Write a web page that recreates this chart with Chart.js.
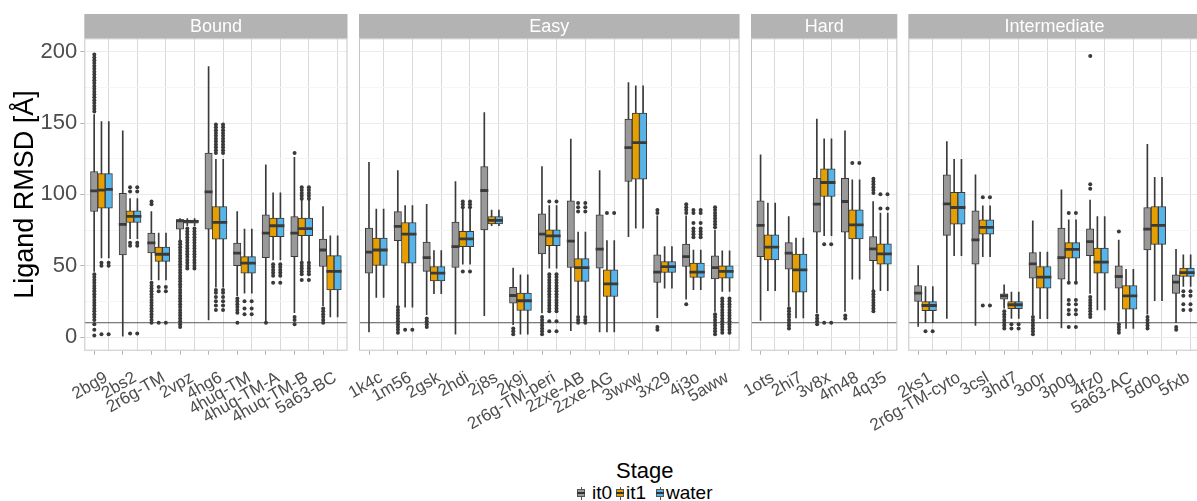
<!DOCTYPE html>
<html>
<head>
<meta charset="utf-8">
<title>Ligand RMSD by stage</title>
<script src="https://cdn.jsdelivr.net/npm/chart.js@4.4.1/dist/chart.umd.min.js"></script>
<style>
  html, body { margin: 0; padding: 0; background: #fff; }
  body { position: relative; width: 1197px; height: 501px; overflow: hidden;
         font-family: "Liberation Sans", Arial, sans-serif; }
  canvas { position: absolute; }
  #legend-title { position: absolute; left: 616px; top: 458px; font-size: 22px; line-height: 26px; color: #000; }
  .item { position: absolute; top: 484px; height: 18px; display: flex; align-items: center;
          font-size: 19px; line-height: 18px; color: #000; }
  .key { position: relative; display: inline-block; width: 8px; height: 13px; margin-right: 0; }
  .key .wh { position: absolute; left: 3.5px; top: 0; width: 1px; height: 13px; background: #555; }
  .key .bx { position: absolute; left: 0; top: 2.5px; width: 6px; height: 6px; border: 1px solid #555; }
  .key .md { position: absolute; left: 0; top: 5px; width: 8px; height: 2px; background: #333; }
</style>
</head>
<body>
<div id="legend-title">Stage</div>
<div class="item" style="left:577px"><span class="key"><span class="wh"></span><span class="bx" style="background:#999999"></span><span class="md"></span></span></div>
<div class="item" style="left:592px">it0</div>
<div class="item" style="left:616px"><span class="key"><span class="wh"></span><span class="bx" style="background:#E69F00"></span><span class="md"></span></span></div>
<div class="item" style="left:626px">it1</div>
<div class="item" style="left:656px"><span class="key"><span class="wh"></span><span class="bx" style="background:#56B4E9"></span><span class="md"></span></span></div>
<div class="item" style="left:666px">water</div>
<script>
// ---- data ----
const stages = ['it0', 'it1', 'water'];
const stageColors = ['#999999', '#E69F00', '#56B4E9'];
const yTicks = [0, 25, 50, 75, 100, 125, 150, 175, 200];
const cutoffLine = 10;

// every box is [lower whisker, Q1, median, Q3, upper whisker]
const boundLigands = ['2bg9', '2bs2', '2r6g-TM', '2vpz', '4hg6', '4huq-TM', '4huq-TM-A', '4huq-TM-B', '5a63-BC'];
const boundIt0 = [
  [46, 88, 102.5, 116, 156], [0.5, 57.6, 79, 100.7, 144.5], [40, 59, 66, 72.8, 88],
  [68, 75.6, 81.5, 82.2, 83], [12, 75.6, 101.7, 129, 189.5], [29, 50, 58.8, 65.8, 88],
  [11, 55.7, 72.8, 85.6, 120.7], [17, 56.4, 72.8, 84.5, 126], [22, 49.4, 61, 68.6, 91.5]
];
const boundIt1 = [
  [55.5, 90.3, 103, 114.5, 151], [69, 80.3, 84.5, 88.4, 97], [40, 53, 58, 63, 72.8],
  [78, 79.8, 81, 82, 83], [35, 68.6, 80.3, 91.5, 124.6], [30.8, 44.8, 51.8, 56.4, 75.6],
  [54, 70.4, 78, 83.3, 101], [53, 71, 76, 83.3, 96], [14, 33, 46, 57, 71]
];
const boundWater = [
  [55.5, 90.3, 103.5, 114.5, 151], [69, 80.3, 84.5, 88.4, 97], [40, 53, 58, 63, 72.8],
  [78, 79.8, 81, 82, 83], [35, 68.6, 80.3, 91.5, 124.6], [30.8, 44.8, 51.8, 56.4, 75.6],
  [54, 70.4, 78, 83.3, 101], [53, 71, 76, 83.3, 96], [14, 33, 46, 57, 71]
];
const boundOutIt0 = [
  [1, 5, 9, 12, 14, 16, 18, 20, 22, 24, 26, 28, 30, 32, 34, 36, 38, 40, 42, 44,
   158, 160, 162, 164, 166, 168, 170, 172, 174, 176, 178, 180, 182, 184, 186, 188, 190, 192, 194, 196, 198],
  [],
  [10, 12, 14, 16, 18, 20, 22, 24, 26, 28, 30, 32, 34, 36, 38, 93, 95],
  [7, 9, 11, 13, 15, 17, 19, 21, 23, 25, 27, 29, 31, 33, 35, 37, 39, 41, 43, 45, 47, 49, 51, 53, 55, 57, 59, 61, 63, 65, 67],
  [],
  [10, 17, 19, 21, 23, 25, 27],
  [10],
  [9, 12, 14, 129],
  [10, 12, 14, 16, 18, 20]
];
const boundOutIt1 = [
  [2, 50, 52], [2.5, 64, 66, 102, 105], [10, 32, 35],
  [48, 50, 52, 54, 56, 58, 60, 62, 64, 66, 68, 70, 72, 74, 76],
  [19, 22, 25, 28, 31, 33, 129, 131, 133, 135, 137, 139, 141, 143, 145, 147, 149],
  [16, 20, 25], [38, 43, 45, 47, 49, 51], [40, 44, 46, 48, 50, 52, 97, 99, 101, 103, 105], []
];
const boundOutWater = [
  [2, 50, 52], [2.5, 64, 66, 102, 105], [10, 32, 35],
  [48, 50, 52, 54, 56, 58, 60, 62, 64, 66, 68, 70, 72, 74, 76],
  [19, 22, 25, 28, 31, 33, 129, 131, 133, 135, 137, 139, 141, 143, 145, 147, 149],
  [16, 20, 25], [38, 43, 45, 47, 49, 51], [40, 44, 46, 48, 50, 52, 97, 99, 101, 103, 105], []
];

const easyLigands = ['1k4c', '1m56', '2gsk', '2hdi', '2j8s', '2k9j', '2r6g-TM-peri', '2zxe-AB', '2zxe-AG', '3wxw', '3x29', '4j3o', '5aww'];
const easyIt0 = [
  [3.5, 44.8, 59.5, 76.3, 122.5], [22.6, 67.6, 77.5, 87.9, 116.7], [15.6, 46, 55.7, 66.5, 93],
  [2, 48.7, 63.4, 80.5, 109], [15, 75.1, 102.7, 119.5, 157.3], [8.6, 23.8, 29.1, 34.8, 48.3],
  [16.8, 58.3, 72.1, 86.3, 119.5], [4.4, 48.7, 67.2, 95.4, 138.7], [3.5, 48.3, 61.6, 85.6, 116.7],
  [70.4, 109, 132.8, 152.7, 178.3], [13.5, 38.2, 45.5, 57.6, 85], [26.6, 49.4, 56.4, 65.1, 85],
  [18, 40.8, 48.7, 56.9, 75]
];
const easyIt1 = [
  [27.7, 50.1, 61, 69.3, 89.6], [21, 51.8, 72.1, 80.3, 92.2], [30.3, 39.4, 44.8, 49.4, 60.6],
  [51, 63.4, 68.8, 74, 89.6], [78, 79.3, 81.7, 84.5, 89], [2, 18.6, 25.4, 30.8, 43.6],
  [48.3, 64.1, 70.9, 75.1, 92.2], [15.6, 39, 48.7, 55, 73.5], [3.5, 28.4, 37.3, 47.1, 67.6],
  [76.3, 110.6, 136.3, 156.9, 176], [34.3, 45.2, 49.4, 52.9, 63.4], [33.1, 41.7, 45.5, 51.8, 61],
  [31.9, 41.3, 46, 49.9, 60.4]
];
const easyWater = [
  [27.7, 50.1, 61, 69.3, 89.6], [21, 51.8, 72.1, 80.3, 92.2], [30.3, 39.4, 44.8, 49.4, 60.6],
  [51, 63.4, 68.8, 74, 89.6], [78, 79.3, 81.7, 84.5, 89], [2, 18.6, 25.4, 30.8, 43.6],
  [48.3, 64.1, 70.9, 75.1, 92.2], [15.6, 39, 48.7, 55, 73.5], [3.5, 28.4, 37.3, 47.1, 67.6],
  [76.3, 110.6, 136.3, 156.9, 176], [34.3, 45.2, 49.4, 52.9, 63.4], [33.1, 41.7, 45.5, 51.8, 61],
  [31.9, 41.3, 46, 49.9, 60.4]
];
const easyOutIt0 = [
  [], [3, 5, 7, 9, 11, 13, 15, 17, 19, 21], [7, 9, 11, 13], [], [], [2, 4, 6],
  [2, 4, 6, 8, 10, 12, 14], [], [], [], [5, 7, 87, 89], [23, 87, 89, 91, 93],
  [2, 4, 6, 8, 10, 12, 14, 16, 77, 79, 81, 83, 85, 87, 89, 91]
];
const easyOutIt1 = [
  [], [5], [], [46, 91, 93, 95], [], [],
  [4, 11, 18, 20, 22, 24, 26, 28, 30, 32, 34, 36, 38, 40, 42, 44, 95],
  [10, 12, 14, 88, 91, 94], [87], [], [], [70, 72, 74, 76, 80, 87, 89],
  [3, 5, 7, 9, 11, 13, 15, 17, 19, 21, 23, 25, 27]
];
const easyOutWater = [
  [], [5], [], [46, 91, 93, 95], [], [],
  [4, 11, 18, 20, 22, 24, 26, 28, 30, 32, 34, 36, 38, 40, 42, 44, 95],
  [10, 12, 14, 88, 91, 94], [87], [], [], [70, 72, 74, 76, 80, 87, 89],
  [3, 5, 7, 9, 11, 13, 15, 17, 19, 21, 23, 25, 27]
];

const hardLigands = ['1ots', '2hi7', '3v8x', '4m48', '4q35'];
const hardIt0 = [
  [11.6, 56.4, 78.2, 95.4, 127.7], [21.4, 47.6, 58.8, 66.2, 84.5], [17, 73.5, 93.1, 111.3, 152.7],
  [18, 73.5, 95, 111.3, 144.5], [33, 53.6, 61.8, 70.4, 95]
];
const hardIt1 = [
  [32.4, 54.1, 63, 71.6, 93.8], [13.3, 31.5, 47.1, 58.1, 69.3], [71, 98.5, 108.3, 117.9, 138.9],
  [40.6, 68.8, 78.6, 89.1, 110.2], [32.4, 51.1, 58.3, 65.3, 86.8]
];
const hardWater = [
  [32.4, 54.1, 63, 71.6, 93.8], [13.3, 31.5, 47.1, 58.1, 69.3], [71, 98.5, 108.3, 117.9, 138.9],
  [40.6, 68.8, 78.6, 89.1, 110.2], [32.4, 51.1, 58.3, 65.3, 86.8]
];
const hardOutIt0 = [
  [], [6, 8, 10, 12, 14, 16, 18, 20], [9, 11, 13, 15], [13, 15],
  [18, 20, 22, 24, 26, 28, 30, 32, 101, 103, 105, 107, 109, 111]
];
const hardOutIt1 = [[], [], [10, 65], [122], [90, 100]];
const hardOutWater = [[], [], [10, 65], [122], [90, 100]];

const interLigands = ['2ks1', '2r6g-TM-cyto', '3csl', '3hd7', '3o0r', '3p0g', '4fz0', '5a63-AC', '5d0o', '5fxb'];
const interIt0 = [
  [7.4, 24.9, 30.8, 36.1, 50.1], [13, 71.2, 93.3, 113.7, 137], [8.1, 51.1, 68.1, 88.4, 113.7],
  [20.3, 26.6, 28.9, 30.3, 36.6], [15.6, 41.3, 51.3, 59.2, 81.4], [6.3, 40.6, 55.7, 76.3, 103.2],
  [30.6, 57.1, 66.9, 75.8, 96], [11, 34.3, 42.4, 49.9, 68], [16, 61.1, 75.6, 90.8, 135.1],
  [10, 30.6, 38.5, 43.6, 61.4]
];
const interIt1 = [
  [10, 18.4, 22.1, 24.9, 35.4], [57, 79.1, 90.8, 101.5, 124.6], [56.4, 72.1, 76.8, 82.1, 92],
  [13, 19.8, 22.6, 24.9, 31.5], [12.8, 34.3, 42, 49.4, 59.5], [39.4, 55.3, 61.4, 66.2, 82.1],
  [19, 44.8, 52.5, 62.3, 84.5], [6, 19.6, 28.9, 36.1, 47.4], [25.4, 64.9, 78.2, 91.5, 112],
  [35.4, 42.4, 45.2, 48.3, 57.6]
];
const interWater = [
  [10, 18.4, 22.1, 24.9, 35.4], [57, 79.1, 90.8, 101.5, 124.6], [56.4, 72.1, 76.8, 82.1, 92],
  [13, 19.8, 22.6, 24.9, 31.5], [12.8, 34.3, 42, 49.4, 59.5], [39.4, 55.3, 61.4, 66.2, 82.1],
  [19, 44.8, 52.5, 62.3, 84.5], [6, 19.6, 28.9, 36.1, 47.4], [25.4, 64.9, 78.2, 91.5, 112],
  [35.4, 42.4, 45.2, 48.3, 57.6]
];
const interOutIt0 = [
  [], [], [], [6, 8, 10, 12, 14, 16, 18], [2, 4, 6, 8, 10, 12, 14], [],
  [14, 16, 18, 20, 22, 24, 26, 28, 104, 107, 197], [3, 5, 7, 9, 74], [6, 8, 10, 12, 14], [5, 7]
];
const interOutIt1 = [
  [4], [], [22, 98], [6, 9], [], [7, 16, 19, 23, 26, 38, 87], [], [], [], [19, 23, 29, 32]
];
const interOutWater = [
  [4], [], [22, 98], [6, 9], [], [7, 16, 19, 23, 26, 38, 87], [], [], [], [19, 23, 29, 32]
];

// ---- layout ----
const FONT = '"Liberation Sans", Arial, sans-serif';
const LINE = '#3a3a3a';
const U = 29.25;               // px per category
const BOX_W = U * 0.25;
const STRIP_TOP = 14, STRIP_H = 24.3, PANEL_H = 312.4, AXIS_H = 95.3;
const CANVAS_H = Math.round(STRIP_H + PANEL_H + AXIS_H);
const Y_MIN = -9.6, Y_MAX = 209.4;

const facetFrame = {
  id: 'facetFrame',
  afterDraw(chart, args, opts) {
    const { ctx, chartArea: a } = chart;
    ctx.save();
    ctx.strokeStyle = '#C6C6C6';
    ctx.lineWidth = 1;
    ctx.strokeRect(a.left + 0.5, a.top + 0.5, a.right - a.left - 1, a.bottom - a.top - 1);
    ctx.fillStyle = '#B3B3B3';
    ctx.fillRect(a.left, a.top - STRIP_H, a.right - a.left, STRIP_H);
    ctx.fillStyle = '#ffffff';
    ctx.font = '18px ' + FONT;
    ctx.textAlign = 'center';
    ctx.textBaseline = 'middle';
    ctx.fillText(opts.title, (a.left + a.right) / 2, a.top - STRIP_H / 2 + 1);
    ctx.restore();
  }
};

function buildDatasets(ligands, stats, outs) {
  const n = ligands.length;
  const ds = [{
    type: 'line', order: 10,
    data: [{ x: -0.6, y: cutoffLine }, { x: n - 0.4, y: cutoffLine }],
    borderColor: '#555555', borderWidth: 1, pointRadius: 0
  }];
  const common = { type: 'bar', barThickness: BOX_W, borderSkipped: false };
  stats.forEach((rows, s) => ds.push({ ...common, stack: stages[s], order: 3,
    data: rows.map((r, i) => ({ x: i, y: [r[0], r[4]] })),
    backgroundColor: LINE, maxBarThickness: 1, borderWidth: 0 }));
  stats.forEach((rows, s) => ds.push({ ...common, stack: stages[s], order: 2,
    data: rows.map((r, i) => ({ x: i, y: [r[1], r[3]] })),
    backgroundColor: stageColors[s], borderColor: LINE, borderWidth: 1 }));
  stats.forEach((rows, s) => ds.push({ ...common, stack: stages[s], order: 1,
    data: rows.map((r, i) => ({ x: i, y: [r[2] - 0.75, r[2] + 0.75] })),
    backgroundColor: LINE, borderWidth: 0 }));
  outs.forEach((list, s) => ds.push({ type: 'scatter', order: 0,
    data: list.flatMap((vals, i) => vals.map(v => ({ x: i + (s - 1) * 0.25, y: v }))),
    pointRadius: 2, pointBackgroundColor: LINE, pointBorderWidth: 0 }));
  return ds;
}

function facet(title, ligands, stats, outs, panelLeft, showY) {
  const n = ligands.length;
  const panelW = (n + 0.2) * U;
  const canvasLeft = showY ? 0 : Math.floor(panelLeft - 60);
  const padL = showY ? 0 : panelLeft - canvasLeft;
  const width = Math.ceil(panelLeft - canvasLeft + panelW + 14);
  const padR = width - (panelLeft - canvasLeft) - panelW;

  const cv = document.createElement('canvas');
  cv.width = width;
  cv.height = CANVAS_H;
  cv.style.left = canvasLeft + 'px';
  cv.style.top = STRIP_TOP + 'px';
  cv.style.width = width + 'px';
  cv.style.height = CANVAS_H + 'px';
  document.body.appendChild(cv);

  const xTickValues = ligands.flatMap((_, i) => [i, i + 0.5]);
  const isCenter = c => c.tick && Number.isInteger(c.tick.value);
  const isMajor = c => c.tick && c.tick.value % 50 === 0;

  new Chart(cv, {
    type: 'bar',
    data: { datasets: buildDatasets(ligands, stats, outs) },
    plugins: [facetFrame],
    options: {
      responsive: false, animation: false, events: [], devicePixelRatio: 1,
      layout: { padding: { left: padL, right: padR, top: STRIP_H, bottom: 0 } },
      plugins: { legend: { display: false }, tooltip: { enabled: false }, facetFrame: { title } },
      scales: {
        x: {
          type: 'linear', min: -0.6, max: n - 0.4, offset: false,
          afterBuildTicks: sc => { sc.ticks = xTickValues.map(v => ({ value: v })); },
          afterFit: sc => { sc.height = AXIS_H; },
          ticks: {
            autoSkip: false, minRotation: 30, maxRotation: 30, padding: 13, labelOffset: 5,
            color: '#4D4D4D', font: { family: FONT, size: 17 },
            callback: v => Number.isInteger(v) ? ligands[v] : ''
          },
          grid: {
            color: c => isCenter(c) ? 'rgba(0,0,0,0)' : '#D9D9D9',
            tickColor: c => isCenter(c) ? '#B3B3B3' : 'rgba(0,0,0,0)',
            tickLength: 4, lineWidth: 1
          },
          border: { display: false }
        },
        y: {
          min: Y_MIN, max: Y_MAX, stacked: false,
          afterBuildTicks: sc => { sc.ticks = yTicks.map(v => ({ value: v })); },
          afterFit: sc => { sc.width = showY ? panelLeft : 0; },
          ticks: {
            display: showY, padding: 3, color: '#4D4D4D', font: { family: FONT, size: 22 },
            callback: v => v % 50 === 0 ? String(v) : ''
          },
          grid: {
            color: c => isMajor(c) ? '#EBEBEB' : '#F5F5F5',
            tickColor: c => isMajor(c) ? '#B3B3B3' : 'rgba(0,0,0,0)',
            tickLength: 4, drawTicks: showY
          },
          border: { display: false },
          title: {
            display: showY, text: 'Ligand RMSD [Å]', color: '#000000',
            font: { family: FONT, size: 27 }, padding: { top: 9, bottom: 4 }
          }
        }
      }
    }
  });
}

facet('Bound', boundLigands, [boundIt0, boundIt1, boundWater], [boundOutIt0, boundOutIt1, boundOutWater], 84.3, true);
facet('Easy', easyLigands, [easyIt0, easyIt1, easyWater], [easyOutIt0, easyOutIt1, easyOutWater], 359, false);
facet('Hard', hardLigands, [hardIt0, hardIt1, hardWater], [hardOutIt0, hardOutIt1, hardOutWater], 751, false);
facet('Intermediate', interLigands, [interIt0, interIt1, interWater], [interOutIt0, interOutIt1, interOutWater], 908.3, false);
</script>
</body>
</html>
